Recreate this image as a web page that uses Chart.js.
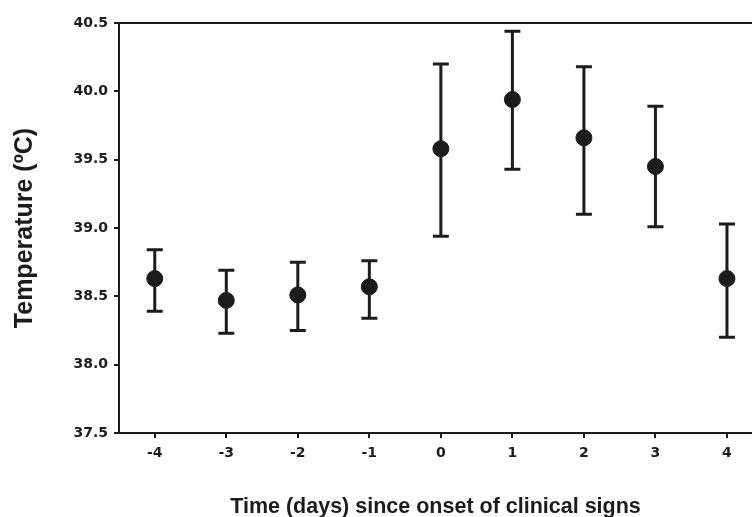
<!DOCTYPE html>
<html>
<head>
<meta charset="utf-8">
<script src="https://cdn.jsdelivr.net/npm/chart.js@4"></script>
<style>
  html, body { margin: 0; padding: 0; background: #fff; overflow: hidden; }
  canvas { display: block; }
</style>
</head>
<body>
<canvas id="tempChart" width="752" height="517"></canvas>
<script>
const days = [-4, -3, -2, -1, 0, 1, 2, 3, 4];
const meanTemp = [38.63, 38.47, 38.51, 38.57, 39.58, 39.94, 39.66, 39.45, 38.63];
const upperTemp = [38.84, 38.69, 38.75, 38.76, 40.20, 40.44, 40.18, 39.89, 39.03];
const lowerTemp = [38.39, 38.23, 38.25, 38.34, 38.94, 39.43, 39.10, 39.01, 38.20];
const dayTicks = [-4, -3, -2, -1, 0, 1, 2, 3, 4];

const ink = "#1c1c1c";
const titleFont = "'Liberation Sans', Arial, sans-serif";
const tickFont = "'DejaVu Sans', sans-serif";

// vertical error bars with caps, drawn through the chart scales
const errorBars = {
  id: "errorBars",
  beforeDatasetsDraw(chart) {
    const { ctx, scales } = chart;
    const xs = scales.x;
    const ys = scales.y;
    ctx.save();
    ctx.strokeStyle = ink;
    ctx.lineWidth = 3;
    days.forEach((d, i) => {
      const px = xs.getPixelForValue(d);
      const top = ys.getPixelForValue(upperTemp[i]);
      const bot = ys.getPixelForValue(lowerTemp[i]);
      ctx.beginPath();
      ctx.moveTo(px, top);
      ctx.lineTo(px, bot);
      ctx.moveTo(px - 8, top);
      ctx.lineTo(px + 8, top);
      ctx.moveTo(px - 8, bot);
      ctx.lineTo(px + 8, bot);
      ctx.stroke();
    });
    ctx.restore();
  }
};

new Chart(document.getElementById("tempChart"), {
  type: "scatter",
  data: {
    datasets: [{
      data: days.map((d, i) => ({ x: d, y: meanTemp[i] })),
      backgroundColor: ink,
      borderColor: ink,
      pointRadius: 8,
      pointHoverRadius: 8
    }]
  },
  options: {
    responsive: false,
    animation: false,
    layout: { autoPadding: false, padding: { top: 23, right: 0, left: 0, bottom: 0 } },
    plugins: {
      legend: { display: false },
      tooltip: { enabled: false }
    },
    scales: {
      x: {
        type: "linear",
        min: -4.5,
        max: 4.35,
        afterBuildTicks: (axis) => {
          axis.ticks = dayTicks.map(v => ({ value: v }));
        },
        afterFit: (axis) => {
          axis.height = 84;
          axis.paddingRight = 0;
        },
        grid: { drawOnChartArea: false, tickLength: 5, tickColor: ink, lineWidth: 2 },
        border: { color: ink, width: 2 },
        ticks: {
          color: ink,
          font: { family: tickFont, size: 14, weight: "bold" },
          padding: 7
        },
        title: {
          display: true,
          text: "Time (days) since onset of clinical signs",
          color: ink,
          font: { family: titleFont, size: 21.5, weight: "bold" },
          padding: { top: 0, bottom: -3 }
        }
      },
      y: {
        min: 37.5,
        max: 40.5,
        afterFit: (axis) => {
          axis.width = 119;
        },
        ticks: {
          stepSize: 0.5,
          color: ink,
          font: { family: tickFont, size: 14, weight: "bold" },
          padding: 6,
          callback: (v) => Number(v).toFixed(1)
        },
        grid: {
          color: (c) => (c.tick && c.tick.value === 40.5 ? ink : "transparent"),
          tickColor: ink,
          tickLength: 5,
          lineWidth: 2
        },
        border: { color: ink, width: 2 },
        title: {
          display: true,
          text: "Temperature (ºC)",
          color: ink,
          font: { family: titleFont, size: 25, weight: "bold" },
          padding: { top: 10, bottom: 0 }
        }
      }
    }
  },
  plugins: [errorBars]
});
</script>
</body>
</html>
